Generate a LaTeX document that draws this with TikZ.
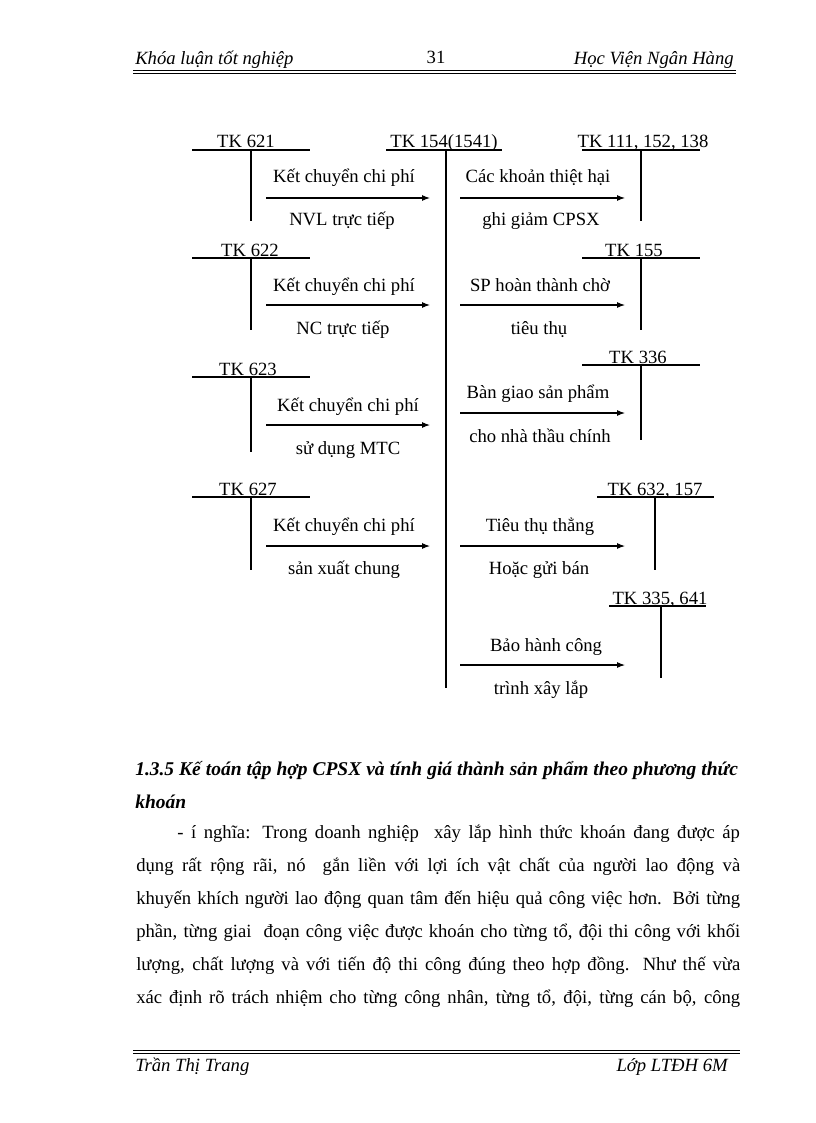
\documentclass[tikz,border=0pt]{standalone}
\usepackage{fontspec}
\setmainfont{Liberation Serif}
\usetikzlibrary{arrows.meta}
\begin{document}
\begin{tikzpicture}[x=0.75pt,y=-0.75pt,
  txt/.style={font=\fontsize{14}{16}\selectfont, inner sep=0pt, anchor=base},
  acct/.style={line width=0.8pt},
  flow/.style={line width=0.8pt, -{Latex[length=6pt,width=4.5pt]}},
  body/.style={font=\fontsize{14}{16}\selectfont, inner sep=0pt, anchor=base west},
  head/.style={font=\fontsize{14.6}{17}\selectfont\bfseries\itshape, inner sep=0pt, anchor=base west},
  hdr/.style={font=\fontsize{14}{16}\selectfont\itshape, inner sep=0pt, anchor=base west},
]
\useasboundingbox[fill=white] (0,0) rectangle (816,1123);

% ---------- page header ----------
\node[hdr] (hL) at (135,65) {Khóa luận tốt nghiệp};
\node[txt] (hN) at (436,64) {31};
\node[hdr, anchor=base east] (hR) at (734,65) {Học Viện Ngân Hàng};
\coordinate (hl1a) at (133,70.5); \coordinate (hl1b) at (736,70.5);
\coordinate (hl2a) at (133,73.5); \coordinate (hl2b) at (736,73.5);
\draw[line width=1.2pt] (hl1a) -- (hl1b);
\draw[line width=0.6pt] (hl2a) -- (hl2b);

% ---------- central account TK 154 ----------
\node[txt] (t154) at (444,148) {TK 154(1541)};
\coordinate (c154l) at (386,150); \coordinate (c154r) at (502,150);
\coordinate (c154t) at (446,150); \coordinate (c154b) at (446,688);
\draw[acct] (c154l) -- (c154r);
\draw[acct] (c154t) -- (c154b);

% ---------- row 1 ----------
\node[txt] (t621) at (246,148) {TK 621};
\coordinate (a621l) at (192,150); \coordinate (a621r) at (310,150);
\coordinate (a621t) at (251,150); \coordinate (a621b) at (251,221);
\draw[acct] (a621l) -- (a621r);
\draw[acct] (a621t) -- (a621b);
\node[txt] (k1a) at (344,183) {Kết chuyển chi phí};
\node[txt] (k1b) at (342,226) {NVL trực tiếp};
\coordinate (f1s) at (266,198); \coordinate (f1e) at (430,198);
\draw[flow] (f1s) -- (f1e);

\node[txt] (t111) at (643,148) {TK 111, 152, 138};
\coordinate (a111l) at (582,150); \coordinate (a111r) at (700,150);
\coordinate (a111t) at (641,150); \coordinate (a111b) at (641,221);
\draw[acct] (a111l) -- (a111r);
\draw[acct] (a111t) -- (a111b);
\node[txt] (r1a) at (538,183) {Các khoản thiệt hại};
\node[txt] (r1b) at (541,226) {ghi giảm CPSX};
\coordinate (g1s) at (460,198); \coordinate (g1e) at (625,198);
\draw[flow] (g1s) -- (g1e);

% ---------- row 2 ----------
\node[txt] (t622) at (250,256) {TK 622};
\coordinate (a622l) at (192,258); \coordinate (a622r) at (310,258);
\coordinate (a622t) at (251,258); \coordinate (a622b) at (251,330);
\draw[acct] (a622l) -- (a622r);
\draw[acct] (a622t) -- (a622b);
\node[txt] (k2a) at (344,291) {Kết chuyển chi phí};
\node[txt] (k2b) at (343,334) {NC trực tiếp};
\coordinate (f2s) at (266,305); \coordinate (f2e) at (430,305);
\draw[flow] (f2s) -- (f2e);

\node[txt] (t155) at (634,256) {TK 155};
\coordinate (a155l) at (582,258); \coordinate (a155r) at (700,258);
\coordinate (a155t) at (641,258); \coordinate (a155b) at (641,330);
\draw[acct] (a155l) -- (a155r);
\draw[acct] (a155t) -- (a155b);
\node[txt] (r2a) at (540,291) {SP hoàn thành chờ};
\node[txt] (r2b) at (539,334) {tiêu thụ};
\coordinate (g2s) at (460,305); \coordinate (g2e) at (625,305);
\draw[flow] (g2s) -- (g2e);

% ---------- row 3 ----------
\node[txt] (t623) at (248,375) {TK 623};
\coordinate (a623l) at (192,377); \coordinate (a623r) at (310,377);
\coordinate (a623t) at (251,377); \coordinate (a623b) at (251,452);
\draw[acct] (a623l) -- (a623r);
\draw[acct] (a623t) -- (a623b);
\node[txt] (k3a) at (348,411) {Kết chuyển chi phí};
\node[txt] (k3b) at (348,454) {sử dụng MTC};
\coordinate (f3s) at (266,425); \coordinate (f3e) at (430,425);
\draw[flow] (f3s) -- (f3e);

\node[txt] (t336) at (638,363) {TK 336};
\coordinate (a336l) at (582,365); \coordinate (a336r) at (700,365);
\coordinate (a336t) at (641,365); \coordinate (a336b) at (641,440);
\draw[acct] (a336l) -- (a336r);
\draw[acct] (a336t) -- (a336b);
\node[txt] (r3a) at (538,398) {Bàn giao sản phẩm};
\node[txt] (r3b) at (540,442) {cho nhà thầu chính};
\coordinate (g3s) at (460,413); \coordinate (g3e) at (625,413);
\draw[flow] (g3s) -- (g3e);

% ---------- row 4 ----------
\node[txt] (t627) at (248,495) {TK 627};
\coordinate (a627l) at (192,497); \coordinate (a627r) at (310,497);
\coordinate (a627t) at (251,497); \coordinate (a627b) at (251,570);
\draw[acct] (a627l) -- (a627r);
\draw[acct] (a627t) -- (a627b);
\node[txt] (k4a) at (344,531) {Kết chuyển chi phí};
\node[txt] (k4b) at (344,574) {sản xuất chung};
\coordinate (f4s) at (266,546); \coordinate (f4e) at (430,546);
\draw[flow] (f4s) -- (f4e);

\node[txt] (t632) at (655,495) {TK 632, 157};
\coordinate (a632l) at (597,497); \coordinate (a632r) at (714,497);
\coordinate (a632t) at (655,497); \coordinate (a632b) at (655,570);
\draw[acct] (a632l) -- (a632r);
\draw[acct] (a632t) -- (a632b);
\node[txt] (r4a) at (540,531) {Tiêu thụ thẳng};
\node[txt] (r4b) at (539,574) {Hoặc gửi bán};
\coordinate (g4s) at (460,546); \coordinate (g4e) at (625,546);
\draw[flow] (g4s) -- (g4e);

% ---------- row 5 ----------
\node[txt] (t335) at (660,604) {TK 335, 641};
\coordinate (a335l) at (609,606); \coordinate (a335r) at (706,606);
\coordinate (a335t) at (661,606); \coordinate (a335b) at (661,678);
\draw[acct] (a335l) -- (a335r);
\draw[acct] (a335t) -- (a335b);
\node[txt] (r5a) at (546,651) {Bảo hành công};
\node[txt] (r5b) at (541,694) {trình xây lắp};
\coordinate (g5s) at (460,665); \coordinate (g5e) at (625,665);
\draw[flow] (g5s) -- (g5e);

% ---------- text below ----------
\node[head] (s1) at (135,775) {\makebox[452pt][s]{1.3.5 Kế toán tập hợp CPSX và tính giá thành sản phẩm theo phương thức}};
\node[head] (s2) at (135,808) {khoán};
\node[body] (p1) at (177,838) {\makebox[422pt][s]{- í nghĩa: Trong doanh nghiệp \ xây lắp hình thức khoán đang được áp}};
\node[body] (p2) at (136,871) {\makebox[453pt][s]{dụng rất rộng rãi, nó \ gắn liền với lợi ích vật chất của người lao động và}};
\node[body] (p3) at (136,904) {\makebox[453pt][s]{khuyến khích người lao động quan tâm đến hiệu quả công việc hơn. Bởi từng}};
\node[body] (p4) at (136,937) {\makebox[453pt][s]{phần, từng giai \ đoạn công việc được khoán cho từng tổ, đội thi công với khối}};
\node[body] (p5) at (136,970) {\makebox[453pt][s]{lượng, chất lượng và với tiến độ thi công đúng theo hợp đồng. Như thế vừa}};
\node[body] (p6) at (136,1003) {\makebox[453pt][s]{xác định rõ trách nhiệm cho từng công nhân, từng tổ, đội, từng cán bộ, công}};

% ---------- page footer ----------
\coordinate (fl1a) at (133,1050.5); \coordinate (fl1b) at (740,1050.5);
\coordinate (fl2a) at (133,1053.5); \coordinate (fl2b) at (740,1053.5);
\draw[line width=1.1pt] (fl1a) -- (fl1b);
\draw[line width=0.9pt] (fl2a) -- (fl2b);
\node[hdr] (fL) at (135,1071) {Trần Thị Trang};
\node[hdr, anchor=base east] (fR) at (728,1071) {Lớp LTĐH 6M};
\end{tikzpicture}
\end{document}
